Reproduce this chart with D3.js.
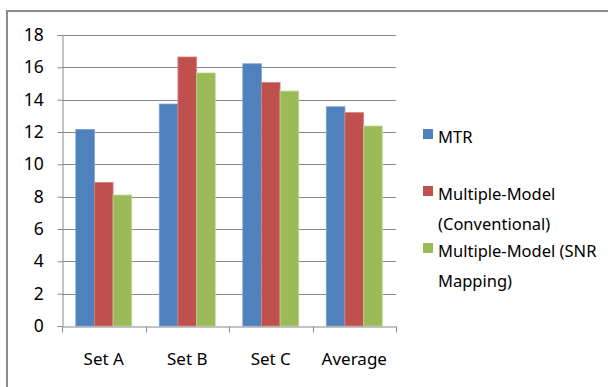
<!DOCTYPE html>
<html>
<head>
<meta charset="utf-8">
<script src="https://cdn.jsdelivr.net/npm/d3@7"></script>
<style>
  body { margin: 0; background: #fff; }
  text { font-family: "Noto Sans", "Open Sans", sans-serif; fill: #000; }
</style>
</head>
<body>
<div id="chart"></div>
<script>
const categories = ["Set A", "Set B", "Set C", "Average"];
const seriesNames = ["MTR", "Multiple-Model (Conventional)", "Multiple-Model (SNR Mapping)"];
const mtr = [12.16, 13.73, 16.22, 13.56];
const conventional = [8.88, 16.64, 15.07, 13.2];
const snrMapping = [8.1, 15.65, 14.53, 12.37];
const yTicks = [0, 2, 4, 6, 8, 10, 12, 14, 16, 18];
const legendLines = [["MTR"], ["Multiple-Model", "(Conventional)"], ["Multiple-Model (SNR", "Mapping)"]];

const colors = ["#4F81BD", "#C0504D", "#9BBB59"];
const edges = ["#7BA0D0", "#D9827F", "#BDD58D"];

const width = 608, height = 387;
const margin = { top: 35, left: 62, right: 212, bottom: 61 };

const data = categories.map((c, i) => ({
  cat: c,
  values: [mtr[i], conventional[i], snrMapping[i]]
}));

const svg = d3.select("#chart").append("svg")
  .attr("width", width)
  .attr("height", height);

// outer frame (top + left only visible)
svg.append("path")
  .attr("d", `M 7 ${height} V 11 H ${width}`)
  .attr("fill", "none")
  .attr("stroke", "#8c8c8c")
  .attr("stroke-width", 2);

const x0 = d3.scaleBand()
  .domain(categories)
  .range([margin.left, width - margin.right])
  .paddingInner(0)
  .paddingOuter(0);

const x1 = d3.scaleBand()
  .domain([0, 1, 2])
  .range([0, x0.bandwidth()])
  .paddingOuter(0.74)
  .paddingInner(0);

const y = d3.scaleLinear()
  .domain([0, 18])
  .range([height - margin.bottom, margin.top]);

// gridlines
svg.append("g")
  .selectAll("line")
  .data(yTicks.filter((d) => d > 0))
  .join("line")
  .attr("x1", margin.left)
  .attr("x2", width - margin.right)
  .attr("y1", (d) => Math.round(y(d)) + 0.5)
  .attr("y2", (d) => Math.round(y(d)) + 0.5)
  .attr("stroke", "#8a8a8a")
  .attr("stroke-width", 1);

// y axis
const yAxis = svg.append("g")
  .attr("transform", `translate(${margin.left + 0.5},0)`)
  .call(d3.axisLeft(y).tickValues(yTicks).tickSize(5).tickPadding(12));
yAxis.select(".domain").attr("stroke", "#8a8a8a");
yAxis.selectAll(".tick line").attr("stroke", "#8a8a8a");
yAxis.selectAll(".tick text")
  .style("font-size", "17.5px")
  .attr("dx", "-0.1em");

// bars
svg.append("g")
  .selectAll("g")
  .data(data)
  .join("g")
  .attr("transform", (d) => `translate(${x0(d.cat)},0)`)
  .selectAll("rect")
  .data((d) => d.values.map((v, k) => ({ v, k })))
  .join("rect")
  .attr("x", (d) => x1(d.k))
  .attr("width", x1.bandwidth())
  .attr("y", (d) => y(d.v))
  .attr("height", (d) => y(0) - y(d.v))
  .attr("fill", (d) => colors[d.k])
  .attr("stroke", (d) => edges[d.k])
  .attr("stroke-width", 0.8);

// x axis
const xAxis = svg.append("g")
  .attr("transform", `translate(0,${Math.round(y(0)) + 0.5})`)
  .call(d3.axisBottom(x0).tickSize(0).tickPadding(26));
xAxis.select(".domain").attr("stroke", "#8a8a8a");
xAxis.selectAll(".tick text").style("font-size", "17px");
// category separator ticks
xAxis.append("g")
  .selectAll("line")
  .data(categories.concat(["end"]))
  .join("line")
  .attr("x1", (d, i) => Math.round(margin.left + i * x0.step()) + 0.5)
  .attr("x2", (d, i) => Math.round(margin.left + i * x0.step()) + 0.5)
  .attr("y1", 0)
  .attr("y2", 6)
  .attr("stroke", "#8a8a8a");

// legend
const legendTop = [129, 186, 243];
const legend = svg.append("g");
legendLines.forEach((lines, k) => {
  legend.append("rect")
    .attr("x", 423)
    .attr("y", legendTop[k])
    .attr("width", 10)
    .attr("height", 10)
    .attr("fill", colors[k]);
  lines.forEach((t, j) => {
    legend.append("text")
      .attr("x", 438)
      .attr("y", legendTop[k] + 14 + j * 30)
      .style("font-size", "16.5px")
      .text(t);
  });
});
</script>
</body>
</html>
